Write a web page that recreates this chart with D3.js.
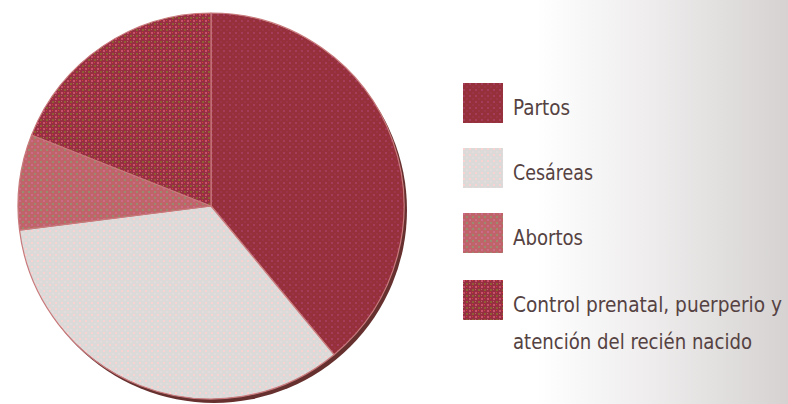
<!DOCTYPE html>
<html>
<head>
<meta charset="utf-8">
<script src="https://cdn.jsdelivr.net/npm/d3@7"></script>
<style>
  html, body { margin: 0; padding: 0; background: #fff; }
  svg { display: block; }
</style>
</head>
<body>
<script>
// slice data (percent of total)
var categories = ["Partos", "Cesáreas", "Abortos", "Control prenatal, puerperio y atención del recién nacido"];
var values = [39, 34, 8, 19];
// legend text, split in lines as in the picture
var legendLines = [["Partos"], ["Cesáreas"], ["Abortos"], ["Control prenatal, puerperio y", "atención del recién nacido"]];
var legendWidths = [[57], [80], [70], [269, 239]];

var w = 788;
var h = 404;

// base colour + two speckle colours per slice
var baseColors = ["#96303a", "#dcd9d9", "#bf6468", "#962f42"];
var dotColors  = ["#a63c5c", "#fad2d2", "#cc6a8a", "#c8506a"];
var dotColors2 = ["#9a3448", "#e4dcdc", "#9a8a70", "#8c6232"];

var svg = d3.select("body")
            .append("svg")
            .attr("width", w)
            .attr("height", h);

var defs = svg.append("defs");

// background fades to grey on the right
var bg = defs.append("linearGradient")
             .attr("id", "bg")
             .attr("x1", "0").attr("x2", "1").attr("y1", "0").attr("y2", "0");
bg.append("stop").attr("offset", "0.68").attr("stop-color", "#ffffff");
bg.append("stop").attr("offset", "0.82").attr("stop-color", "#efeded");
bg.append("stop").attr("offset", "1").attr("stop-color", "#d6d2d2");

svg.append("rect")
   .attr("width", w)
   .attr("height", h)
   .attr("fill", "url(#bg)");

// dithered-looking fills
baseColors.forEach(function(c, i) {
  var p = defs.append("pattern")
              .attr("id", "fill" + i)
              .attr("width", 6).attr("height", 6)
              .attr("patternUnits", "userSpaceOnUse");
  p.append("rect").attr("width", 6).attr("height", 6).attr("fill", c);
  p.append("rect").attr("x", 0).attr("y", 0).attr("width", 2).attr("height", 2).attr("fill", dotColors[i]);
  p.append("rect").attr("x", 3).attr("y", 3).attr("width", 2).attr("height", 2).attr("fill", dotColors2[i]);
  if (i == 3) {
    p.append("rect").attr("x", 3).attr("y", 0).attr("width", 1).attr("height", 1).attr("fill", "#d0403a");
    p.append("rect").attr("x", 0).attr("y", 3).attr("width", 1).attr("height", 1).attr("fill", "#b06a60");
  }
});

var cx = 211, cy = 206, r = 193;

var pie = d3.pie().sort(null).value(function(d) { return d; });
var arc = d3.arc().innerRadius(0).outerRadius(r);

// dark rim at the lower right
svg.append("circle")
   .attr("cx", cx + 3)
   .attr("cy", cy + 4)
   .attr("r", r)
   .attr("fill", "#66302f");

var g = svg.append("g")
           .attr("transform", "translate(" + cx + "," + cy + ")");

g.selectAll("path")
 .data(pie(values))
 .enter()
 .append("path")
 .attr("d", arc)
 .attr("fill", function(d, i) { return "url(#fill" + i + ")"; })
 .attr("stroke", "#c87a7c")
 .attr("stroke-width", 1.2)
 .attr("stroke-linejoin", "round");

// legend
var legendY = d3.scaleOrdinal()
                .domain(categories)
                .range([83, 148, 213, 280]);

var legend = svg.selectAll(".legend")
                .data(categories)
                .enter()
                .append("g")
                .attr("class", "legend")
                .attr("transform", function(d) { return "translate(463," + legendY(d) + ")"; });

legend.append("rect")
      .attr("width", 40)
      .attr("height", 40)
      .attr("fill", function(d, i) { return "url(#fill" + i + ")"; });

legend.each(function(d, i) {
  var t = d3.select(this).append("text")
            .style("font-family", "'Liberation Sans Narrow', 'DejaVu Sans Condensed', 'Liberation Sans', sans-serif")
            .style("font-size", "21px")
            .attr("fill", "#554242");
  legendLines[i].forEach(function(line, j) {
    t.append("tspan")
     .attr("x", 50)
     .attr("y", 32 + j * 37)
     .attr("textLength", legendWidths[i][j])
     .attr("lengthAdjust", "spacingAndGlyphs")
     .text(line);
  });
});
</script>
</body>
</html>
